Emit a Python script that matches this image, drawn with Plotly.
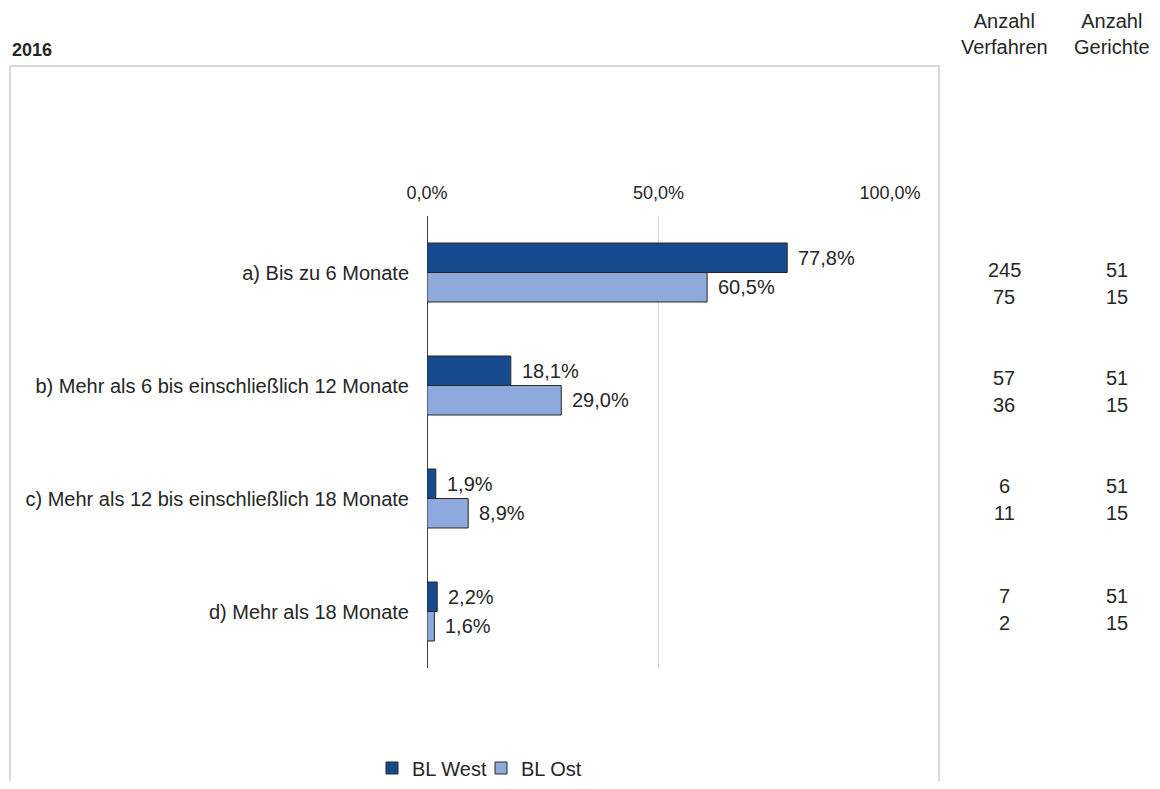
import plotly.graph_objects as go

# ---------------- data ----------------
categories = [
    "a) Bis zu 6 Monate",
    "b) Mehr als 6 bis einschließlich 12 Monate",
    "c) Mehr als 12 bis einschließlich 18 Monate",
    "d) Mehr als 18 Monate",
]
west_pct = [77.8, 18.1, 1.9, 2.2]
ost_pct = [60.5, 29.0, 8.9, 1.6]
verfahren_west = [245, 57, 6, 7]
verfahren_ost = [75, 36, 11, 2]
gerichte_west = [51, 51, 51, 51]
gerichte_ost = [15, 15, 15, 15]
series_names = ["BL West", "BL Ost"]
tick_vals = [0, 50, 100]
tick_text = ["0,0%", "50,0%", "100,0%"]
header_verfahren = "Anzahl<br>Verfahren"
header_gerichte = "Anzahl<br>Gerichte"
title_text = "<b>2016</b>"

# ---------------- layout constants ----------------
PAGE_OFF = 8                      # default body margin of the html page
W, H = 1160 - PAGE_OFF, 789 - 2 * PAGE_OFF
PLOT_L, PLOT_R, PLOT_T, PLOT_B = 427, 890, 216, 668   # page pixels
L = PLOT_L - PAGE_OFF
T = PLOT_T - PAGE_OFF
R = W - (PLOT_R - PAGE_OFF)
B = H - (PLOT_B - PAGE_OFF)
PW = PLOT_R - PLOT_L
PH = PLOT_B - PLOT_T
FONT = "Liberation Sans, Arial, sans-serif"
TXT = "#262626"
C_WEST = "#17498F"
C_OST = "#8EA9DB"


def px_x(px):
    return (px - PLOT_L) / PW


def px_y(py):
    return (PLOT_B - py) / PH


fig = go.Figure()
fig.add_trace(go.Bar(
    y=categories, x=west_pct, name=series_names[0], orientation="h",
    marker=dict(color=C_WEST, line=dict(color="#262626", width=1)),
))
fig.add_trace(go.Bar(
    y=categories, x=ost_pct, name=series_names[1], orientation="h",
    marker=dict(color=C_OST, line=dict(color="#262626", width=1)),
))

annotations = []
bar_half = 14.75
# value labels
for cat, w, o in zip(categories, west_pct, ost_pct):
    for val, ys in ((w, bar_half), (o, -bar_half)):
        annotations.append(dict(
            x=val, y=cat, xref="x", yref="y", text=f"{val:.1f}%".replace(".", ","),
            showarrow=False, xanchor="left", yanchor="middle", xshift=9, yshift=ys,
            font=dict(size=20, color=TXT, family=FONT),
        ))

# right-hand table (row offsets in px relative to category centre)
row_shift_west = [2.5, 7.5, 12.5, 16]
row_shift_ost = [-24, -19.5, -14.5, -11]
col_x = [px_x(1004), px_x(1117)]
for i, cat in enumerate(categories):
    for cx, vw, vo in ((col_x[0], verfahren_west[i], verfahren_ost[i]),
                       (col_x[1], gerichte_west[i], gerichte_ost[i])):
        annotations.append(dict(x=cx, y=cat, xref="paper", yref="y", text=str(vw),
                                showarrow=False, xanchor="center", yanchor="middle",
                                yshift=row_shift_west[i],
                                font=dict(size=20, color=TXT, family=FONT)))
        annotations.append(dict(x=cx, y=cat, xref="paper", yref="y", text=str(vo),
                                showarrow=False, xanchor="center", yanchor="middle",
                                yshift=row_shift_ost[i],
                                font=dict(size=20, color=TXT, family=FONT)))

# column headers
header_x = [px_x(1004), px_x(1112)]
for cx, txt in ((header_x[0], header_verfahren), (header_x[1], header_gerichte)):
    annotations.append(dict(x=cx, y=px_y(34), xref="paper", yref="paper", text=txt,
                            showarrow=False, xanchor="center", yanchor="middle",
                            font=dict(size=20, color=TXT, family=FONT)))

# title
annotations.append(dict(x=px_x(10), y=px_y(50), xref="paper", yref="paper", text=title_text,
                        showarrow=False, xanchor="left", yanchor="middle",
                        font=dict(size=18, color=TXT, family=FONT)))

shapes = [dict(type="rect", xref="paper", yref="paper",
               x0=px_x(10), x1=px_x(939), y0=px_y(805), y1=px_y(66),
               line=dict(color="#D9D9D9", width=2), fillcolor="rgba(0,0,0,0)", layer="below")]

fig.update_layout(
    width=W, height=H,
    margin=dict(l=L, r=R, t=T, b=B, autoexpand=False),
    paper_bgcolor="white", plot_bgcolor="white",
    separators=",.",
    barmode="group", bargap=0.478, bargroupgap=0,
    font=dict(family=FONT, size=20, color=TXT),
    showlegend=True,
    legend=dict(orientation="h", x=px_x(372), y=px_y(768), xanchor="left", yanchor="middle",
                font=dict(size=20, color=TXT, family=FONT), itemwidth=30,
                entrywidth=64, entrywidthmode="pixels",
                bgcolor="rgba(0,0,0,0)", traceorder="normal"),
    annotations=annotations,
    shapes=shapes,
    xaxis=dict(side="top", range=[0, 100], tickvals=tick_vals, ticktext=tick_text,
               showgrid=True, gridcolor="#D9D9D9", gridwidth=1,
               zeroline=True, zerolinecolor="#404040", zerolinewidth=1,
               showline=False, ticks="", ticklabelstandoff=12,
               tickfont=dict(size=18, color=TXT, family=FONT), fixedrange=True),
    yaxis=dict(type="category", range=[3.5, -0.5], showgrid=False, zeroline=False,
               showline=False, ticks="", ticklabelstandoff=17,
               tickfont=dict(size=20, color=TXT, family=FONT), fixedrange=True),
)

fig.write_html("out.html")
